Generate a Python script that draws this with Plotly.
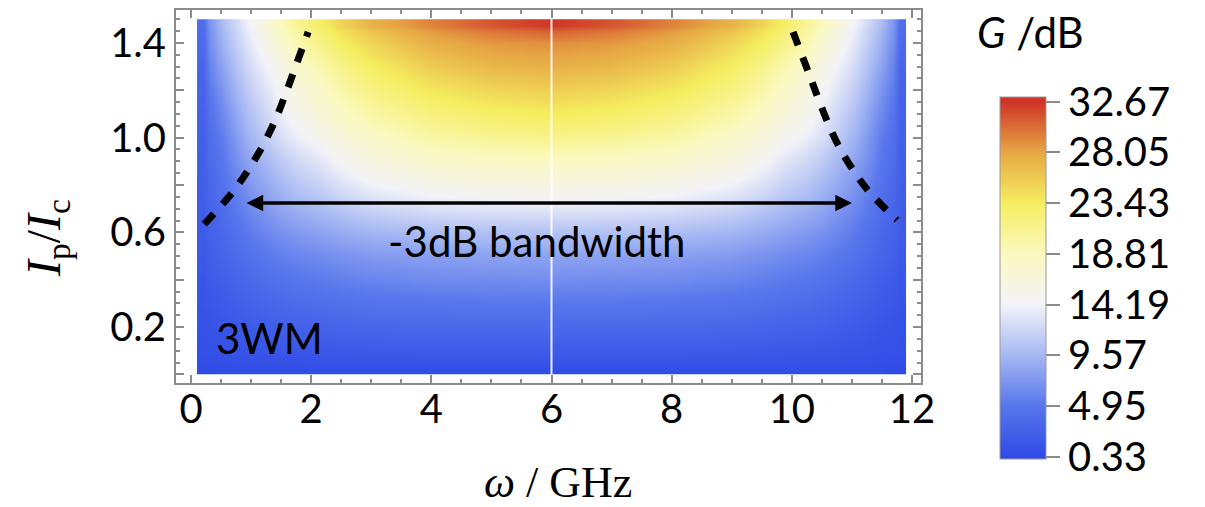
import numpy as np
import plotly.graph_objects as go

# ---------------- data ----------------
omega = [0.1, 0.5, 1.0, 1.5, 2.0, 3.0, 4.0, 5.0, 6.0, 7.0, 8.0, 9.0, 10.0, 10.5, 11.0, 11.5, 11.9]
ip = [0.0, 0.1, 0.2, 0.3, 0.4, 0.5, 0.6, 0.7, 0.8, 0.9, 1.0, 1.1, 1.2, 1.3, 1.4, 1.5]

# gain G (dB), one row per Ip/Ic value, columns follow omega
g_00 = [0.4, 0.5, 0.5, 0.6, 0.6, 0.6, 0.6, 0.6, 0.6, 0.6, 0.6, 0.6, 0.6, 0.6, 0.5, 0.5, 0.4]
g_01 = [0.8, 1.0, 1.3, 1.5, 1.7, 1.9, 2.0, 2.0, 2.0, 2.0, 2.0, 1.9, 1.7, 1.5, 1.3, 1.0, 0.8]
g_02 = [1.0, 1.4, 2.0, 2.5, 2.8, 3.2, 3.4, 3.5, 3.5, 3.5, 3.4, 3.2, 2.8, 2.5, 2.0, 1.4, 1.0]
g_03 = [1.3, 1.9, 2.8, 3.5, 4.0, 4.6, 4.8, 5.0, 5.0, 5.0, 4.8, 4.6, 4.0, 3.5, 2.8, 1.9, 1.3]
g_04 = [1.5, 2.4, 3.6, 4.5, 5.2, 6.0, 6.4, 6.5, 6.6, 6.5, 6.4, 6.0, 5.2, 4.5, 3.6, 2.4, 1.5]
g_05 = [1.8, 3.0, 4.5, 5.6, 6.4, 7.4, 7.8, 8.0, 8.1, 8.0, 7.8, 7.4, 6.4, 5.6, 4.5, 3.0, 1.8]
g_06 = [2.0, 3.5, 5.4, 6.9, 8.0, 9.4, 10.0, 10.3, 10.4, 10.3, 10.0, 9.4, 8.0, 6.9, 5.4, 3.5, 2.0]
g_07 = [2.2, 4.0, 6.4, 8.3, 9.8, 11.8, 12.7, 13.1, 13.2, 13.1, 12.7, 11.8, 9.8, 8.3, 6.4, 4.0, 2.2]
g_08 = [2.3, 4.5, 7.4, 9.6, 11.5, 14.0, 15.2, 15.7, 15.9, 15.7, 15.2, 14.0, 11.5, 9.6, 7.4, 4.5, 2.3]
g_09 = [2.4, 5.0, 8.4, 11.0, 13.1, 16.0, 17.6, 18.3, 18.5, 18.3, 17.6, 16.0, 13.1, 11.0, 8.4, 5.0, 2.4]
g_10 = [2.5, 5.5, 9.5, 12.6, 14.8, 18.0, 20.0, 20.9, 21.3, 20.9, 20.0, 18.0, 14.8, 12.6, 9.5, 5.5, 2.5]
g_11 = [2.7, 6.3, 10.5, 13.6, 16.5, 20.0, 22.0, 23.0, 23.5, 23.0, 22.0, 20.0, 16.5, 13.6, 10.5, 6.3, 2.7]
g_12 = [2.9, 7.2, 11.5, 14.6, 18.0, 21.7, 23.8, 24.9, 25.4, 24.9, 23.8, 21.7, 18.0, 14.6, 11.5, 7.2, 2.9]
g_13 = [3.2, 8.2, 12.5, 15.6, 19.5, 23.2, 25.6, 26.9, 27.4, 26.9, 25.6, 23.2, 19.5, 15.6, 12.5, 8.2, 3.2]
g_14 = [3.6, 9.2, 13.5, 17.4, 21.5, 25.0, 27.5, 28.6, 29.0, 28.6, 27.5, 25.0, 21.5, 17.4, 13.5, 9.2, 3.6]
g_15 = [4.0, 10.0, 14.5, 19.0, 23.0, 27.3, 29.5, 31.3, 32.6, 31.3, 29.5, 27.3, 23.0, 19.0, 14.5, 10.0, 4.0]

# -3 dB boundary (dashed curves)
left_x = [0.22, 0.68, 0.95, 1.20, 1.41, 1.58, 1.75, 1.95]
left_y = [0.635, 0.766, 0.863, 0.969, 1.079, 1.189, 1.307, 1.446]
right_x = [10.02, 10.24, 10.41, 10.58, 10.77, 11.02, 11.30, 11.75]
right_y = [1.446, 1.300, 1.185, 1.075, 0.969, 0.863, 0.768, 0.652]

# bandwidth arrow ends and level
bw_start, bw_end, bw_level = 0.9, 11.0, 0.724
center_freq = 6.0

# colour bar
cbar_ticks = [0.33, 4.95, 9.57, 14.19, 18.81, 23.43, 28.05, 32.67]
cbar_labels = ["0.33", "4.95", "9.57", "14.19", "18.81", "23.43", "28.05", "32.67"]
cbar_colors = ["#2f4be6", "#5876ec", "#a6b8f3", "#f3f3f8", "#fbf9c0", "#f5ee60", "#e6a744", "#cf3327"]
zmin, zmax = 0.12, 33.1

x_ticks = [0, 2, 4, 6, 8, 10, 12]
y_ticks = [0.0, 0.2, 0.4, 0.6, 0.8, 1.0, 1.2, 1.4]
y_ticktext = ["", "0.2", "", "0.6", "", "1.0", "", "1.4"]

# ---------------- build figure ----------------
z = np.array([g_00, g_01, g_02, g_03, g_04, g_05, g_06, g_07,
              g_08, g_09, g_10, g_11, g_12, g_13, g_14, g_15])

om = np.array(omega)
yy = np.array(ip)
x_edges = np.concatenate([[om[0]], (om[1:] + om[:-1]) / 2, [om[-1]]])
y_edges = np.concatenate([[yy[0]], (yy[1:] + yy[:-1]) / 2, [yy[-1]]])

colorscale = [[(v - zmin) / (zmax - zmin), c] for v, c in zip(cbar_ticks, cbar_colors)]
colorscale = [[0.0, cbar_colors[0]]] + colorscale + [[1.0, cbar_colors[-1]]]

FONT = "Lato"
SERIF = "Liberation Serif"
W, H = 1205, 507
OFF = 8  # page body margin of the html page
# plot frame in page pixels
FX0, FX1, FY0, FY1 = 176, 921, 10, 383
L, T = FX0 - OFF, FY0 - OFF
R, B = W - (FX1 - OFF), H - (FY1 - OFF)
PW, PH = FX1 - FX0, FY1 - FY0


def px2paper(px, py):
    return (px - FX0) / PW, (FY1 - py) / PH


cbx, cby = px2paper(1000, 97)

fig = go.Figure()
fig.add_trace(go.Heatmap(
    x=x_edges, y=y_edges, z=z, zsmooth="best",
    colorscale=colorscale, zmin=zmin, zmax=zmax,
    colorbar=dict(
        x=cbx, xanchor="left", y=cby, yanchor="top",
        lenmode="pixels", len=362, thicknessmode="pixels", thickness=46,
        xpad=0, ypad=0,
        outlinewidth=1, outlinecolor="#9a9a9a",
        tickmode="array", tickvals=cbar_ticks, ticktext=cbar_labels,
        ticks="outside", ticklen=14, tickwidth=2, tickcolor="#8a8a8a",
        tickfont=dict(family=FONT, size=40, color="black"),
    ),
    hoverinfo="skip",
))

for xs, ys in ((left_x, left_y), (right_x, right_y)):
    fig.add_trace(go.Scatter(
        x=xs, y=ys, mode="lines", line=dict(color="black", width=7, dash="14px,13px", shape="spline"),
        showlegend=False, hoverinfo="skip",
    ))

fig.add_shape(type="line", x0=center_freq, x1=center_freq, y0=yy[0], y1=yy[-1],
              line=dict(color="rgba(255,255,255,0.9)", width=2), layer="above")

fig.add_annotation(x=bw_end, y=bw_level, ax=bw_start, ay=bw_level, axref="x", ayref="y",
                   text="", showarrow=True, arrowhead=2, arrowside="end+start",
                   arrowwidth=3.5, arrowsize=0.95, arrowcolor="black")
fig.add_annotation(x=5.76, y=0.565, text="-3dB bandwidth", showarrow=False,
                   font=dict(family=FONT, size=42, color="black"), xanchor="center", yanchor="middle")
fig.add_annotation(x=0.38, y=0.156, text="3WM", showarrow=False,
                   font=dict(family=FONT, size=42, color="black"), xanchor="left", yanchor="middle")

xp, yp = px2paper(558, 482)
fig.add_annotation(x=xp, y=yp, xref="paper", yref="paper", text="<i>ω</i> / GHz", showarrow=False,
                   font=dict(family=SERIF, size=44, color="black"), xanchor="center", yanchor="middle")
xp, yp = px2paper(47, 238)
fig.add_annotation(x=xp, y=yp, xref="paper", yref="paper",
                   text="<i>I</i><sub>p</sub>/<i>I</i><sub>c</sub>", showarrow=False, textangle=-90,
                   font=dict(family=SERIF, size=48, color="black"), xanchor="center", yanchor="middle")
xp, yp = px2paper(975, 32)
fig.add_annotation(x=xp, y=yp, xref="paper", yref="paper", text="<i>G</i> /dB", showarrow=False,
                   font=dict(family=FONT, size=42, color="black"), xanchor="left", yanchor="middle")

axis_common = dict(
    showline=True, linecolor="#8c8c8c", linewidth=2, mirror="allticks",
    ticks="inside", ticklen=8, tickwidth=1.5, tickcolor="#8c8c8c",
    showgrid=False, zeroline=False,
    tickfont=dict(family=FONT, size=40, color="black"),
)
fig.update_xaxes(range=[-0.25, 12.15], tickmode="array", tickvals=x_ticks, ticklabelstandoff=-10,
                 minor=dict(dtick=0.5, tick0=0, ticks="inside", ticklen=4, tickcolor="#8c8c8c", tickwidth=1.5),
                 **axis_common)
fig.update_yaxes(range=[-0.036, 1.539], tickmode="array", tickvals=y_ticks, ticktext=y_ticktext,
                 minor=dict(dtick=0.05, tick0=0, ticks="inside", ticklen=4, tickcolor="#8c8c8c", tickwidth=1.5),
                 **axis_common)

fig.update_layout(
    width=W, height=H, margin=dict(l=L, r=R, t=T, b=B, autoexpand=False),
    paper_bgcolor="white", plot_bgcolor="white", showlegend=False,
    font=dict(family=FONT, color="black"),
)

fig.write_html("out.html")
